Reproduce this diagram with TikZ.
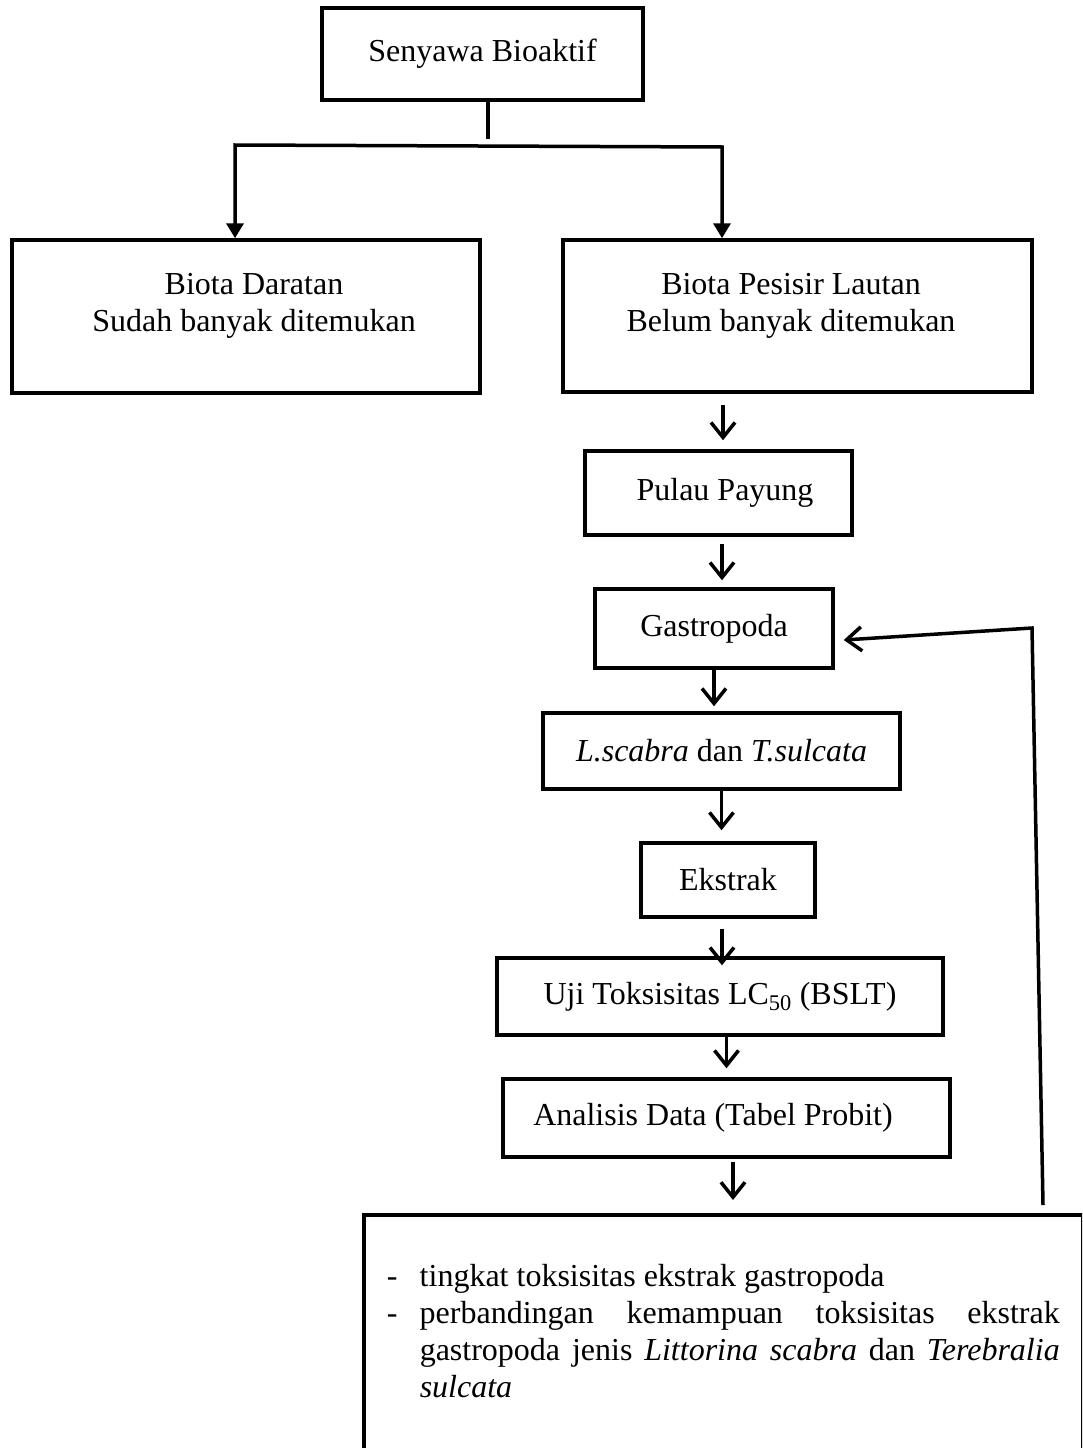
\documentclass[tikz,border=0pt]{standalone}
\usepackage{fontspec}
\setmainfont{Liberation Serif}
\usetikzlibrary{arrows.meta,calc}
\tolerance=9999
\hyphenpenalty=10000
\newcommand{\dashitem}[1]{\noindent\hangindent=33pt\hangafter=1\makebox[33pt][l]{-}#1\par}

\begin{document}
\begin{tikzpicture}[x=1pt, y=-1pt,
  every node/.style={font=\fontsize{32}{36.8}\selectfont},
  flowbox/.style={draw, line width=3.5pt, inner sep=2pt, align=center},
  flow/.style={line width=3.5pt, -{Straight Barb[length=15pt,width=24pt]}},
  fork/.style={line width=3.5pt, {Triangle[length=15pt,width=17pt]}-{Triangle[length=15pt,width=17pt]}}]
  \useasboundingbox (0,0) rectangle (1082,1448);
  \clip (0,0) rectangle (1082,1448);
  \fill[white] (0,0) rectangle (1082,1448);

  \node[flowbox, minimum width=321pt, minimum height=92pt] (bioaktif) at (482.5,54) {Senyawa Bioaktif};
  \node[flowbox, minimum width=468pt, minimum height=153pt,
        label={[align=center, xshift=8pt, yshift=11pt]center:Biota Daratan\\Sudah banyak ditemukan}] (daratan) at (246,316.5) {};
  \node[flowbox, minimum width=469pt, minimum height=152pt,
        label={[align=center, xshift=-6.5pt, yshift=10.5pt]center:Biota Pesisir Lautan\\Belum banyak ditemukan}] (pesisir) at (797.5,316) {};
  \node[flowbox, minimum width=267pt, minimum height=84pt] (payung) at (718.5,493) {\hspace*{13pt}Pulau Payung};
  \node[flowbox, minimum width=238pt, minimum height=79pt] (gastro) at (714,628.5) {Gastropoda};
  \node[flowbox, minimum width=357pt, minimum height=76pt] (lscabra) at (721.5,751) {\textit{L.scabra} dan \textit{T.sulcata}};
  \node[flowbox, minimum width=174pt, minimum height=74pt] (ekstrak) at (728,880) {Ekstrak};
  \node[flowbox, minimum width=446pt, minimum height=77pt] (uji) at (720,996.5) {Uji Toksisitas LC\textsubscript{50} (BSLT)};
  \node[flowbox, minimum width=447pt, minimum height=78pt] (analisis) at (726.5,1118) {Analisis Data (Tabel Probit)\hspace*{27pt}};
  \node[draw, line width=3.5pt, anchor=north west, text width=673pt, inner xsep=23pt, inner ysep=50pt, align=justify] (hasil) at (362,1213)
    {\dashitem{tingkat toksisitas ekstrak gastropoda}\dashitem{perbandingan kemampuan toksisitas ekstrak\linebreak gastropoda jenis \textit{Littorina scabra} dan \textit{Terebralia}\linebreak \textit{sulcata}}\noindent\rule{0pt}{90pt}\par};

  % cabang dari senyawa bioaktif
  \coordinate (forkL) at (235,145);
  \coordinate (forkR) at (722,147);
  \draw[line width=3.5pt] ($(bioaktif.south)+(5.5,0)$) -- ++(0,37);
  \draw[fork] (forkL |- daratan.north) -- (forkL) -- (forkR) -- (forkR |- pesisir.north);

  % alur utama
  \draw[flow, shorten <=11pt, shorten >=9pt] ($(pesisir.south -| payung.north)+(4.5,0)$) -- ($(payung.north)+(4.5,0)$);
  \draw[flow, shorten <=7pt, shorten >=7pt] ($(payung.south)+(3.5,0)$) -- ($(gastro.north -| payung.south)+(3.5,0)$);
  \draw[flow, shorten >=5pt] (gastro.south) -- (gastro.south |- lscabra.north);
  \draw[flow, shorten >=11pt] (lscabra.south) -- (lscabra.south |- ekstrak.north);
  \draw[flow, shorten <=10pt, shorten >=-9pt] ($(ekstrak.south -| uji.north)+(2,0)$) -- ($(uji.north)+(2,0)$);
  \draw[flow, shorten >=9pt] (analisis.north |- uji.south) -- (analisis.north);
  \draw[flow, shorten <=3pt, shorten >=13pt] ($(analisis.south)+(6.5,0)$) -- ($(analisis.south |- hasil.north)+(6.5,0)$);

  % umpan balik ke gastropoda
  \coordinate (loopfoot) at (1043,1205);
  \coordinate (looptop) at (1032,628);
  \draw[flow] (loopfoot) -- (looptop) -- ($(gastro.east)+(9,11.5)$);
\end{tikzpicture}
\end{document}
